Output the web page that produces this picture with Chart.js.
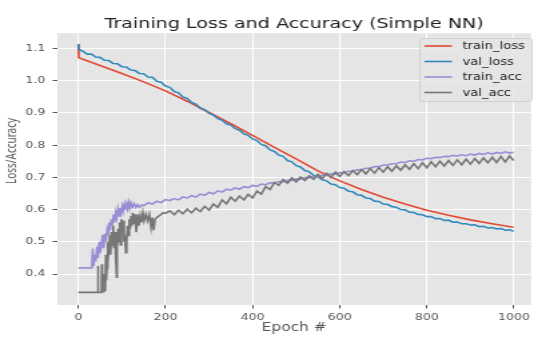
<!DOCTYPE html>
<html>
<head>
<meta charset="utf-8">
<script src="https://cdn.jsdelivr.net/npm/chart.js@4"></script>
<style>
  html, body { margin: 0; padding: 0; background: #ffffff; overflow: hidden; }
  /* the reference figure is stretched sideways, so draw narrow and widen with CSS */
  #chart { display: block; width: 534px; height: 338px; }
</style>
</head>
<body>
<canvas id="chart" width="400" height="338" style="width:534px;height:338px"></canvas>
<script>
// ---- data ----
const chartTitle = 'Training Loss and Accuracy (Simple NN)';
const xTitle = 'Epoch #';
const yTitle = 'Loss/Accuracy';
const seriesNames = ['train_loss', 'val_loss', 'train_acc', 'val_acc'];
const seriesColors = ['#E24A33', '#348ABD', '#988ED5', '#777777'];
const xTicks = [0, 200, 400, 600, 800, 1000];
const yTicks = [0.4, 0.5, 0.6, 0.7, 0.8, 0.9, 1.0, 1.1];

const trainLossEpochs = [0, 1, 50, 100, 150, 200, 250, 300, 350, 400, 450, 500, 550, 600, 650, 700, 750, 800, 850, 900, 950, 999];
const trainLoss = [1.113, 1.071, 1.047, 1.022, 0.996, 0.968, 0.936, 0.901, 0.866, 0.830, 0.793, 0.757, 0.720, 0.689, 0.662, 0.638, 0.617, 0.598, 0.582, 0.568, 0.556, 0.545];

const valLossEpochs = [0, 2, 10, 20, 30, 40, 50, 60, 70, 80, 90, 100, 110, 120, 130, 140, 150, 160, 170, 180, 190,
  200, 210, 220, 230, 240, 250, 260, 270, 280, 290, 300, 310, 320, 330, 340, 350, 360, 370, 380, 390,
  400, 410, 420, 430, 440, 450, 460, 470, 480, 490, 500, 510, 520, 530, 540, 550, 560, 570, 580, 590,
  600, 610, 620, 630, 640, 650, 660, 670, 680, 690, 700, 710, 720, 730, 740, 750, 760, 770, 780, 790,
  800, 810, 820, 830, 840, 850, 860, 870, 880, 890, 900, 910, 920, 930, 940, 950, 960, 970, 980, 990, 999];
const valLoss = [1.113, 1.096, 1.091, 1.082, 1.082, 1.073, 1.072, 1.063, 1.062, 1.053, 1.052, 1.043, 1.042, 1.033, 1.031, 1.022, 1.021, 1.011, 1.010, 0.998, 0.995,
  0.983, 0.979, 0.966, 0.962, 0.949, 0.945, 0.932, 0.927, 0.914, 0.910, 0.898, 0.893, 0.882, 0.877, 0.866, 0.862, 0.851, 0.846, 0.835, 0.830,
  0.819, 0.814, 0.802, 0.798, 0.785, 0.780, 0.769, 0.765, 0.752, 0.748, 0.736, 0.732, 0.721, 0.717, 0.706, 0.702, 0.692, 0.689, 0.679, 0.677,
  0.668, 0.666, 0.657, 0.655, 0.646, 0.644, 0.636, 0.634, 0.626, 0.625, 0.617, 0.616, 0.609, 0.607, 0.600, 0.599, 0.592, 0.591, 0.585, 0.584,
  0.578, 0.578, 0.572, 0.572, 0.566, 0.567, 0.561, 0.561, 0.556, 0.556, 0.552, 0.553, 0.547, 0.548, 0.543, 0.544, 0.540, 0.541, 0.536, 0.537, 0.533];

const trainAccEpochs = [0, 31, 33, 35, 38, 40, 43, 45, 48, 50, 53, 56, 58, 61, 63, 66, 68, 71, 73, 76, 78, 81, 83, 86, 88, 91, 93, 96, 98,
  101, 103, 106, 108, 111, 113, 116, 118, 121, 124, 128, 132, 136, 140, 145, 150,
  160, 170, 180, 190, 200, 210, 220, 230, 240, 250, 260, 270, 280, 290, 300, 310, 320, 330, 340, 350, 360, 370, 380, 390,
  400, 410, 420, 430, 440, 450, 460, 470, 480, 490, 500, 510, 520, 530, 540, 550, 560, 570, 580, 590,
  600, 610, 620, 630, 640, 650, 660, 670, 680, 690, 700, 710, 720, 730, 740, 750, 760, 770, 780, 790,
  800, 810, 820, 830, 840, 850, 860, 870, 880, 890, 900, 910, 920, 930, 940, 950, 960, 970, 980, 990, 999];
const trainAcc = [0.419, 0.419, 0.478, 0.425, 0.460, 0.440, 0.485, 0.450, 0.500, 0.465, 0.490, 0.522, 0.480, 0.525, 0.500, 0.535, 0.520, 0.560, 0.535, 0.570, 0.550, 0.585, 0.560, 0.590, 0.575, 0.600, 0.580, 0.605, 0.590,
  0.610, 0.595, 0.615, 0.600, 0.618, 0.603, 0.622, 0.605, 0.620, 0.607, 0.618, 0.606, 0.615, 0.607, 0.614, 0.612,
  0.621, 0.617, 0.626, 0.622, 0.631, 0.628, 0.634, 0.630, 0.639, 0.636, 0.643, 0.639, 0.648, 0.644, 0.653, 0.649, 0.658, 0.654, 0.663, 0.660, 0.667, 0.663, 0.671, 0.668,
  0.675, 0.672, 0.679, 0.677, 0.683, 0.682, 0.687, 0.686, 0.691, 0.690, 0.695, 0.694, 0.699, 0.698, 0.703, 0.702, 0.707, 0.706, 0.711, 0.710,
  0.715, 0.714, 0.719, 0.719, 0.723, 0.723, 0.728, 0.728, 0.733, 0.733, 0.738, 0.738, 0.742, 0.742, 0.747, 0.746, 0.751, 0.750, 0.755, 0.754,
  0.759, 0.758, 0.762, 0.761, 0.765, 0.764, 0.768, 0.766, 0.770, 0.767, 0.772, 0.769, 0.774, 0.771, 0.776, 0.772, 0.777, 0.774, 0.779, 0.775, 0.778];

const valAccEpochs = [0, 44, 45, 46, 53, 54, 55, 58, 59, 60, 62, 63, 64, 66, 67, 68, 70, 72, 74, 76, 78, 80, 82, 84, 86, 88, 89,
  91, 93, 95, 97, 99, 101, 103, 105, 107, 109, 111, 113, 115, 117, 119, 121, 123, 125, 127, 130, 133, 136, 139,
  142, 145, 148, 151, 155, 159, 163, 167, 170, 173, 176, 180, 185, 190, 195,
  200, 210, 220, 230, 240, 250, 260, 270, 280, 290, 300, 310, 320, 330, 340, 350, 360, 370, 380, 390,
  400, 410, 420, 430, 440, 450, 460, 470, 480, 490, 500, 510, 520, 530, 540, 550, 560, 570, 580, 590,
  600, 610, 620, 630, 640, 650, 660, 670, 680, 690, 700, 710, 720, 730, 740, 750, 760, 770, 780, 790,
  800, 810, 820, 830, 840, 850, 860, 870, 880, 890, 900, 910, 920, 930, 940, 950, 960, 970, 980, 990, 999];
const valAcc = [0.343, 0.343, 0.425, 0.343, 0.343, 0.430, 0.345, 0.345, 0.400, 0.350, 0.360, 0.460, 0.380, 0.420, 0.500, 0.440, 0.470, 0.520, 0.460, 0.530, 0.490, 0.550, 0.480, 0.530, 0.450, 0.390, 0.480,
  0.540, 0.500, 0.560, 0.490, 0.570, 0.530, 0.566, 0.500, 0.520, 0.466, 0.500, 0.550, 0.520, 0.570, 0.540, 0.580, 0.550, 0.590, 0.555, 0.585, 0.530, 0.585, 0.550,
  0.580, 0.560, 0.590, 0.565, 0.585, 0.565, 0.585, 0.545, 0.575, 0.536, 0.570, 0.575, 0.580, 0.585, 0.590,
  0.588, 0.596, 0.584, 0.598, 0.587, 0.601, 0.590, 0.604, 0.594, 0.610, 0.598, 0.617, 0.607, 0.630, 0.618, 0.638, 0.626, 0.642, 0.630, 0.647,
  0.636, 0.657, 0.648, 0.671, 0.662, 0.684, 0.675, 0.693, 0.682, 0.698, 0.686, 0.701, 0.690, 0.705, 0.694, 0.709, 0.696, 0.712, 0.700, 0.716,
  0.703, 0.718, 0.705, 0.721, 0.708, 0.724, 0.711, 0.727, 0.713, 0.730, 0.716, 0.733, 0.719, 0.736, 0.722, 0.739, 0.725, 0.742, 0.727, 0.745,
  0.730, 0.748, 0.733, 0.750, 0.735, 0.752, 0.737, 0.754, 0.739, 0.756, 0.741, 0.758, 0.743, 0.760, 0.745, 0.762, 0.746, 0.764, 0.748, 0.766, 0.752];

// ---- helpers ----
const toPoints = (xs, ys) => xs.map((x, i) => ({ x: x, y: ys[i] }));
const seriesEpochs = [trainLossEpochs, valLossEpochs, trainAccEpochs, valAccEpochs];
const seriesValues = [trainLoss, valLoss, trainAcc, valAcc];

// grey ggplot-style panel behind the grid
const panelBackground = {
  id: 'panelBackground',
  beforeDraw(chart) {
    const { ctx, chartArea: a } = chart;
    ctx.save();
    ctx.fillStyle = '#E5E5E5';
    ctx.fillRect(a.left, a.top, a.right - a.left, a.bottom - a.top);
    ctx.restore();
  }
};

// rotated y label, placed where the reference has it
const yLabel = {
  id: 'yLabel',
  afterDraw(chart) {
    const ctx = chart.ctx;
    ctx.save();
    ctx.translate(9, 151);
    ctx.rotate(-Math.PI / 2);
    ctx.font = '10px "Noto Sans", "DejaVu Sans", sans-serif';
    ctx.fillStyle = '#555555';
    ctx.textAlign = 'center';
    ctx.textBaseline = 'middle';
    ctx.fillText(yTitle, 0, 0);
    ctx.restore();
  }
};

// matplotlib-like legend box in the upper right corner
const boxLegend = {
  id: 'boxLegend',
  afterDraw(chart) {
    const ctx = chart.ctx;
    const left = 314.5, top = 38.5, width = 84, height = 63, r = 2.5;
    ctx.save();
    ctx.beginPath();
    ctx.moveTo(left + r, top);
    ctx.arcTo(left + width, top, left + width, top + height, r);
    ctx.arcTo(left + width, top + height, left, top + height, r);
    ctx.arcTo(left, top + height, left, top, r);
    ctx.arcTo(left, top, left + width, top, r);
    ctx.closePath();
    ctx.fillStyle = 'rgba(229,229,229,0.8)';
    ctx.fill();
    ctx.strokeStyle = 'rgba(204,204,204,0.8)';
    ctx.lineWidth = 1;
    ctx.stroke();
    ctx.font = '9.8px "DejaVu Sans", sans-serif';
    ctx.textBaseline = 'middle';
    ctx.textAlign = 'left';
    chart.data.datasets.forEach((ds, i) => {
      const y = 46 + i * 15.5;
      ctx.strokeStyle = ds.borderColor;
      ctx.lineWidth = 1.6;
      ctx.beginPath();
      ctx.moveTo(318, y);
      ctx.lineTo(338.5, y);
      ctx.stroke();
      ctx.fillStyle = '#222222';
      ctx.fillText(ds.label, 346.5, y + 0.5);
    });
    ctx.restore();
  }
};

const tickFont = { family: 'DejaVu Sans', size: 9.4 };

new Chart(document.getElementById('chart'), {
  type: 'line',
  data: {
    datasets: seriesNames.map((name, i) => ({
      label: name,
      data: toPoints(seriesEpochs[i], seriesValues[i]),
      borderColor: seriesColors[i],
      backgroundColor: seriesColors[i],
      borderWidth: 1.6,
      pointRadius: 0,
      tension: 0,
      fill: false,
      order: seriesNames.length - i
    }))
  },
  options: {
    responsive: false,
    animation: false,
    devicePixelRatio: 1,
    layout: { padding: 0 },
    plugins: {
      legend: { display: false },
      tooltip: { enabled: false },
      title: {
        display: true,
        text: chartTitle,
        fullSize: false,
        color: '#222222',
        font: { family: 'DejaVu Sans', size: 14.3, weight: 'normal' },
        padding: { top: 15.5, bottom: 0.5 }
      }
    },
    scales: {
      x: {
        type: 'linear',
        min: -48,
        max: 1039,
        afterBuildTicks: (scale) => { scale.ticks = xTicks.map(v => ({ value: v })); },
        afterFit: (scale) => { scale.height = 33; },
        border: { display: false },
        grid: { color: '#ffffff', lineWidth: 1, tickColor: '#555555', tickLength: 3.5, tickWidth: 1 },
        ticks: { autoSkip: false, maxRotation: 0, padding: 3, color: '#555555', font: tickFont, callback: (v) => String(v) },
        title: {
          display: true,
          text: xTitle,
          color: '#555555',
          font: { family: 'DejaVu Sans', size: 11.5 },
          padding: { top: 0, bottom: 3.5 }
        }
      },
      y: {
        type: 'linear',
        min: 0.304,
        max: 1.147,
        afterBuildTicks: (scale) => { scale.ticks = yTicks.map(v => ({ value: v })); },
        afterFit: (scale) => { scale.width = 43; },
        border: { display: false },
        grid: { color: '#ffffff', lineWidth: 1, tickColor: '#555555', tickLength: 3.5, tickWidth: 1 },
        ticks: { autoSkip: false, padding: 5.5, color: '#555555', font: tickFont, callback: (v) => v.toFixed(1) }
      }
    }
  },
  plugins: [panelBackground, yLabel, boxLegend]
});
</script>
</body>
</html>
